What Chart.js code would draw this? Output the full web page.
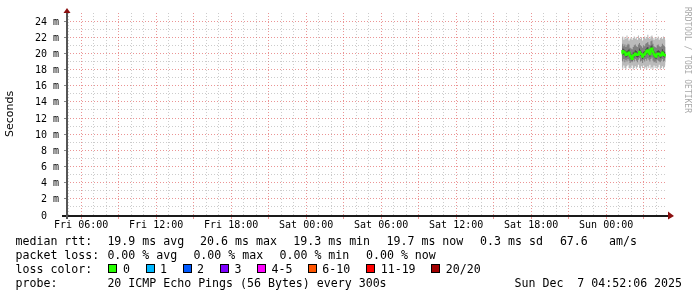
<!DOCTYPE html>
<html><head><meta charset="utf-8">
<script src="https://cdn.jsdelivr.net/npm/chart.js@4.4.1/dist/chart.umd.min.js"></script>
<style>
html,body{margin:0;padding:0;background:#fff;}
#wrap{position:relative;width:697px;height:297px;overflow:hidden;background:#fff;}
canvas{position:absolute;left:0;top:0;}
.t{position:absolute;font-family:'DejaVu Sans Mono',monospace;font-size:11.6px;line-height:14px;white-space:pre;color:#000;}
.b{position:absolute;width:9px;height:9px;box-sizing:border-box;border:1px solid #000;}
.wm{position:absolute;left:682px;top:7px;writing-mode:vertical-rl;font-family:'DejaVu Sans Mono',monospace;font-size:8px;line-height:10px;color:#a8a8a8;white-space:pre;}
</style></head>
<body><div id="wrap"><canvas id="c" width="697" height="297"></canvas>
<div class="wm">RRDTOOL / TOBI OETIKER</div>
<div class="t" style="left:15.5px;top:234px">median rtt:</div>
<div class="t" style="left:107.4px;top:234px">19.9 ms avg</div>
<div class="t" style="left:200.1px;top:234px">20.6 ms max</div>
<div class="t" style="left:293.3px;top:234px">19.3 ms min</div>
<div class="t" style="left:386.5px;top:234px">19.7 ms now</div>
<div class="t" style="left:480.1px;top:234px">0.3 ms sd</div>
<div class="t" style="left:559.9px;top:234px">67.6</div>
<div class="t" style="left:609px;top:234px">am/s</div>
<div class="t" style="left:15.5px;top:248px">packet loss:</div>
<div class="t" style="left:107.4px;top:248px">0.00 % avg</div>
<div class="t" style="left:193.4px;top:248px">0.00 % max</div>
<div class="t" style="left:279.5px;top:248px">0.00 % min</div>
<div class="t" style="left:366px;top:248px">0.00 % now</div>
<div class="t" style="left:15.5px;top:262px">loss color:</div>
<div class="b" style="left:108px;top:264px;background:#26ff00"></div><div class="t" style="left:123px;top:262px">0</div>
<div class="b" style="left:145.5px;top:264px;background:#00b8ff"></div><div class="t" style="left:160px;top:262px">1</div>
<div class="b" style="left:182.5px;top:264px;background:#0059ff"></div><div class="t" style="left:197px;top:262px">2</div>
<div class="b" style="left:220px;top:264px;background:#7e00ff"></div><div class="t" style="left:234.5px;top:262px">3</div>
<div class="b" style="left:257px;top:264px;background:#ff00ff"></div><div class="t" style="left:271.5px;top:262px">4-5</div>
<div class="b" style="left:308px;top:264px;background:#ff5500"></div><div class="t" style="left:322.3px;top:262px">6-10</div>
<div class="b" style="left:366px;top:264px;background:#ff0000"></div><div class="t" style="left:380.7px;top:262px">11-19</div>
<div class="b" style="left:431px;top:264px;background:#a10000"></div><div class="t" style="left:445.8px;top:262px">20/20</div>
<div class="t" style="left:15.5px;top:276px">probe:</div>
<div class="t" style="left:107.4px;top:276px">20 ICMP Echo Pings (56 Bytes) every 300s</div>
<div class="t" style="left:514.5px;top:276px">Sun Dec  7 04:52:06 2025</div>
</div>
<script>
// ---- data (Sunday sample times, 5 min steps) ----
const sampleTimes = ["01:15","01:20","01:25","01:30","01:35","01:40","01:45","01:50","01:55","02:00",
  "02:05","02:10","02:15","02:20","02:25","02:30","02:35","02:40","02:45","02:50",
  "02:55","03:00","03:05","03:10","03:15","03:20","03:25","03:30","03:35","03:40",
  "03:45","03:50","03:55","04:00","04:05","04:10","04:15","04:20","04:25","04:30",
  "04:35","04:40","04:45"];
const medianMs = [20.0,20.3,20.2,20.1,19.8,19.9,20.0,20.1,19.7,19.5,
  19.3,19.7,19.8,20.0,19.9,19.8,19.9,20.2,20.0,19.9,
  19.6,19.8,19.9,20.1,20.3,20.4,20.1,19.9,20.5,20.6,
  20.2,19.9,19.7,19.6,19.9,20.0,19.9,19.7,19.8,20.1,
  19.9,19.8,19.7];
const smokeMin = [18.3,18.1,18.5,18.2,18.0,18.4,18.6,18.2,18.1,18.3,
  18.5,18.0,18.2,18.4,18.1,18.3,18.6,18.2,18.0,18.4,
  18.2,18.5,18.1,18.3,18.0,18.4,18.2,18.6,18.1,18.3,
  18.0,18.5,18.2,18.4,18.1,18.3,18.6,18.0,18.2,18.4,
  18.1,18.3,18.5];
const smokeP20 = [19.1,19.0,19.3,18.9,19.2,19.0,19.3,19.1,18.8,19.0,
  18.9,19.2,19.0,19.3,19.1,18.9,19.2,19.4,19.0,19.1,
  18.8,19.2,19.0,19.3,19.1,19.4,19.2,19.0,19.3,19.5,
  19.1,18.9,19.0,18.8,19.2,19.1,19.0,18.9,19.1,19.3,
  19.0,19.1,18.9];
const smokeP40 = [19.7,19.9,19.8,19.7,19.5,19.6,19.7,19.8,19.4,19.3,
  19.1,19.5,19.5,19.7,19.6,19.5,19.6,19.9,19.7,19.6,
  19.3,19.5,19.6,19.8,19.9,20.0,19.8,19.6,20.1,20.2,
  19.9,19.6,19.4,19.3,19.6,19.7,19.6,19.4,19.5,19.8,
  19.6,19.5,19.4];
const smokeP60 = [20.4,20.6,20.5,20.4,20.2,20.3,20.4,20.5,20.1,19.9,
  19.8,20.1,20.2,20.4,20.3,20.1,20.3,20.6,20.4,20.2,
  20.0,20.2,20.3,20.5,20.7,20.8,20.5,20.3,20.9,21.0,
  20.6,20.3,20.1,20.0,20.3,20.4,20.3,20.1,20.2,20.5,
  20.3,20.2,20.1];
const smokeP80 = [21.0,21.2,20.9,21.1,20.8,21.0,21.2,21.1,20.7,20.6,
  20.5,20.8,21.0,21.1,20.9,20.8,21.1,21.3,21.0,20.9,
  20.7,21.0,20.9,21.2,21.3,21.4,21.1,21.0,21.5,21.6,
  21.2,20.9,20.8,20.7,21.0,21.1,20.9,20.8,20.9,21.2,
  21.0,20.9,20.8];
const smokeMax = [21.9,22.1,21.7,22.0,21.8,22.2,21.9,21.6,21.8,22.0,
  21.7,21.9,22.1,21.8,22.0,21.7,22.2,21.9,21.8,22.0,
  21.6,21.9,22.1,21.8,22.0,22.3,21.9,21.8,22.1,22.2,
  21.9,21.7,22.0,21.8,21.9,22.1,21.7,21.9,22.0,21.8,
  22.1,21.9,21.7];
// ---- tick labels ----
const xTickHours = [6,12,18,24,30,36,42,48];
const xTickLabels = ["Fri 06:00","Fri 12:00","Fri 18:00","Sat 00:00","Sat 06:00","Sat 12:00","Sat 18:00","Sun 00:00"];
const yTickValues = [0,2,4,6,8,10,12,14,16,18,20,22,24];
const yTickLabels = ["0  ","2 m","4 m","6 m","8 m","10 m","12 m","14 m","16 m","18 m","20 m","22 m","24 m"];

// hours since Fri 00:00
const axisStart = 4 + 52/60 + 6/3600;   // Fri 04:52:06
const axisEnd = axisStart + 48;         // Sun 04:52:06
const sampleHours = sampleTimes.map(s => { const [h,m] = s.split(':').map(Number); return 48 + h + m/60; });
const pts = arr => arr.map((v,i) => ({x: sampleHours[i], y: v}));

const xMajor = [], xMinor = [];
for (let h = Math.ceil(axisStart); h <= Math.floor(axisEnd); h++) (h % 3 === 0 ? xMajor : xMinor).push(h);
const yMinor = []; for (let v = 1; v < 25; v += 2) yMinor.push(v);

const MGRID = 'rgba(222,79,79,0.6)';
const GRID = 'rgba(143,143,143,0.45)';
const NONE = 'rgba(0,0,0,0)';

const band = (data, color, order, fill) => ({
  data: pts(data), borderWidth: 0, borderColor: NONE, backgroundColor: color,
  pointRadius: 0, stepped: 'middle', fill: fill, order: order
});

const axisPlugin = {
  id: 'axes',
  afterDraw(chart) {
    const {ctx, chartArea: a} = chart;
    ctx.save();
    ctx.fillStyle = '#1a1a1a';
    ctx.fillRect(62, a.bottom, a.right + 2 - 62, 2);
    ctx.fillStyle = '#555';
    ctx.fillRect(a.left - 1, a.top, 2, a.bottom + 4 - a.top);
    ctx.fillStyle = '#8b0f0f';
    ctx.beginPath();
    ctx.moveTo(a.right + 1, a.bottom - 3.5);
    ctx.lineTo(a.right + 1, a.bottom + 4.5);
    ctx.lineTo(a.right + 7, a.bottom + 1);
    ctx.closePath(); ctx.fill();
    ctx.beginPath();
    ctx.moveTo(a.left - 3.5, a.top);
    ctx.lineTo(a.left + 3.5, a.top);
    ctx.lineTo(a.left, a.top - 5);
    ctx.closePath(); ctx.fill();
    ctx.restore();
  }
};

const tickFont = { family: 'DejaVu Sans Mono', size: 10 };

new Chart(document.getElementById('c'), {
  type: 'line',
  data: {
    datasets: [
      { data: pts(medianMs), borderColor: '#26ff00', borderWidth: 2, pointRadius: 0,
        stepped: 'middle', fill: false, order: 0 },
      band(smokeP40, NONE, 1, false),
      band(smokeP60, '#4a4a4a', 1, '-1'),
      band(smokeP20, NONE, 2, false),
      band(smokeP80, '#808080', 2, '-1'),
      band(smokeMin, NONE, 3, false),
      band(smokeMax, '#bababa', 3, '-1')
    ]
  },
  options: {
    responsive: false, animation: false, devicePixelRatio: 1,
    layout: { padding: { left: 0, right: 30, top: 13, bottom: 0 } },
    plugins: { legend: { display: false }, tooltip: { enabled: false } },
    scales: {
      xMinor: {
        axis: 'x', type: 'linear', position: 'bottom', min: axisStart, max: axisEnd, weight: 1,
        afterFit(s) { s.height = 0; },
        afterBuildTicks(s) { s.ticks = xMinor.map(v => ({value: v})); },
        grid: { color: GRID, lineWidth: 1, drawTicks: false },
        border: { display: false, dash: [1, 2] },
        ticks: { display: false }
      },
      x: {
        type: 'linear', position: 'bottom', min: axisStart, max: axisEnd, weight: 0,
        afterFit(s) { s.height = 82; },
        afterBuildTicks(s) { s.ticks = xMajor.map(v => ({value: v})); },
        grid: { color: MGRID, tickColor: MGRID, lineWidth: 1, drawTicks: true, tickLength: 4 },
        border: { display: false, dash: [1, 2] },
        ticks: {
          padding: 1, maxRotation: 0, minRotation: 0, autoSkip: false, color: '#000',
          font: { family: 'DejaVu Sans Mono', size: 10, lineHeight: 1 },
          callback(v) { const i = xTickHours.indexOf(v); return i >= 0 ? xTickLabels[i] : ''; }
        }
      },
      yMinor: {
        axis: 'y', type: 'linear', position: 'left', min: 0, max: 25, weight: 1,
        afterFit(s) { s.width = 0; },
        afterBuildTicks(s) { s.ticks = yMinor.map(v => ({value: v})); },
        grid: { color: GRID, lineWidth: 1, drawTicks: false },
        border: { display: false, dash: [1, 2] },
        ticks: { display: false }
      },
      y: {
        type: 'linear', position: 'left', min: 0, max: 25, weight: 0,
        afterFit(s) { s.width = 67; },
        afterBuildTicks(s) { s.ticks = yTickValues.map(v => ({value: v})); },
        grid: { color: MGRID, tickColor: '#888', lineWidth: 1, drawTicks: true, tickLength: 3 },
        border: { display: false, dash: [1, 2] },
        ticks: {
          padding: 5, autoSkip: false, color: '#000', labelOffset: 1, font: tickFont,
          callback(v) { const i = yTickValues.indexOf(v); return i >= 0 ? yTickLabels[i] : ''; }
        },
        title: { display: true, text: 'Seconds', color: '#000',
          font: { family: 'DejaVu Sans', size: 11 }, padding: { top: 4, bottom: 4 } }
      }
    }
  },
  plugins: [axisPlugin]
});
</script>
</body></html>
